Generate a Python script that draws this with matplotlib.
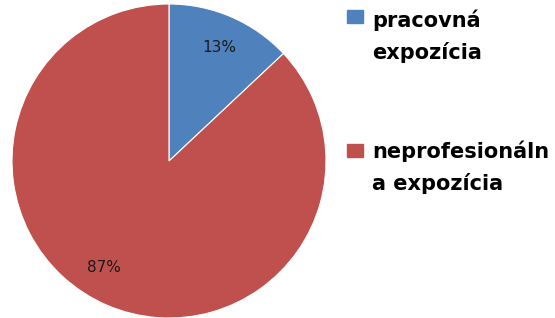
import matplotlib
matplotlib.use("Agg")
import matplotlib.pyplot as plt

categories = ["pracovná\nexpozícia", "neprofesionáln\na expozícia"]
values = [13, 87]
labels = ["13%", "87%"]
colors = ["#4F81BD", "#C0504D"]

W, H = 555, 318
fig = plt.figure(figsize=(W/100, H/100), dpi=100)
cx, cy, r = 169, 161, 157
ax = fig.add_axes([(cx - r)/W, (H - cy - r)/H, 2*r/W, 2*r/H])
wedges, _ = ax.pie(values, colors=colors, startangle=90, counterclock=False,
                   radius=1.0, wedgeprops=dict(edgecolor="white", linewidth=0.8))
ax.set_xlim(-1, 1); ax.set_ylim(-1, 1)
ax.set_aspect("equal")
ax.axis("off")

def to_data(px, py):
    return ((px - cx)/r, (cy - py)/r)

for lab, (px, py) in zip(labels, [(219, 47), (104, 268)]):
    x, y = to_data(px, py)
    ax.text(x, y, lab, ha="center", va="center", fontsize=11, color="#1a1a1a",
            family="DejaVu Sans")

# legend
for cat, col, ytop, base in zip(categories, colors, [10, 144], [27, 158]):
    fig.patches.append(plt.Rectangle((347/W, (H - ytop - 13)/H), 16/W, 13/H,
                                     transform=fig.transFigure, color=col, figure=fig))
    for i, line in enumerate(cat.split("\n")):
        fig.text(372/W, (H - base - i*32)/H, line, ha="left", va="baseline",
                 fontsize=15, fontweight="bold", family="DejaVu Sans")

fig.savefig("out.png", dpi=100)
